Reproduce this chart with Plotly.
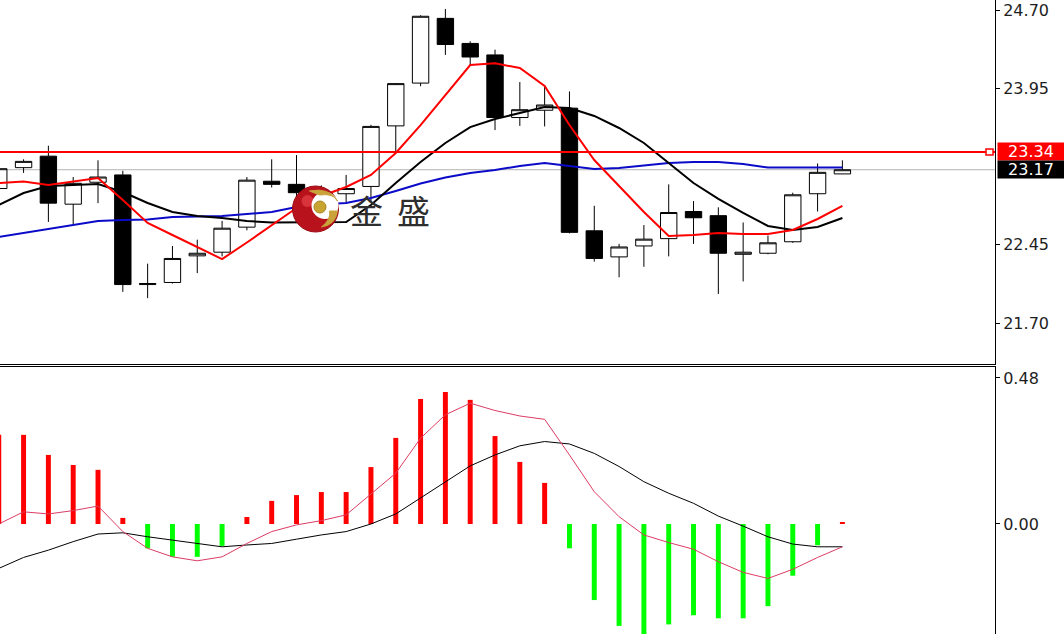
import plotly.graph_objects as go

# ---------------- data ----------------
bars = list(range(35))
opens = [22.99, 23.19, 23.30, 22.84, 23.05, 23.12, 22.07, 22.09, 22.345, 22.38,
         22.62, 23.06, 23.03, 22.96, 22.94, 23.01, 23.59, 24.00, 24.62, 24.38,
         24.27, 23.67, 23.74, 23.76, 22.585, 22.335, 22.44, 22.51, 22.77, 22.73,
         22.36, 22.37, 22.48, 22.94, 23.13]
highs = [23.22, 23.27, 23.40, 23.10, 23.26, 23.16, 22.27, 22.44, 22.50, 22.68,
         23.10, 23.27, 23.31, 23.02, 23.12, 23.60, 24.00, 24.65, 24.71, 24.40,
         24.32, 24.01, 23.98, 23.92, 22.825, 22.46, 22.64, 23.03, 22.87, 22.81,
         22.665, 22.54, 22.95, 23.23, 23.26]
lows = [22.95, 23.14, 22.67, 22.65, 22.85, 22.00, 21.94, 22.08, 22.18, 22.34,
        22.59, 23.00, 22.88, 22.83, 22.85, 22.87, 23.34, 23.97, 24.27, 24.17,
        23.55, 23.59, 23.585, 22.56, 22.29, 22.14, 22.24, 22.34, 22.46, 21.98,
        22.10, 22.36, 22.47, 22.77, 23.13]
closes = [23.18, 23.25, 22.85, 23.04, 23.10, 22.07, 22.08, 22.32, 22.37, 22.61,
          23.07, 23.03, 22.95, 22.92, 22.99, 23.585, 23.995, 24.64, 24.37, 24.25,
          23.67, 23.745, 23.79, 22.57, 22.32, 22.43, 22.505, 22.76, 22.71, 22.37,
          22.38, 22.47, 22.93, 23.145, 23.17]

ma_red = [23.043, 23.057, 23.024, 23.055, 23.091, 22.880, 22.660, 22.545, 22.429, 22.314,
          22.473, 22.636, 22.803, 22.918, 23.005, 23.120, 23.330, 23.598, 23.886, 24.173,
          24.189, 24.144, 23.972, 23.598, 23.263, 23.014, 22.765, 22.535, 22.545, 22.564,
          22.554, 22.554, 22.593, 22.698, 22.823]
ma_black = [22.832, 22.947, 23.014, 23.024, 23.033, 22.957, 22.851, 22.765, 22.727, 22.708,
            22.679, 22.665, 22.665, 22.665, 22.669, 22.832, 23.043, 23.244, 23.426, 23.579,
            23.656, 23.713, 23.771, 23.761, 23.685, 23.570, 23.426, 23.234, 23.043, 22.890,
            22.756, 22.631, 22.593, 22.621, 22.708]
ma_blue = [22.526, 22.564, 22.602, 22.641, 22.679, 22.689, 22.693, 22.717, 22.722, 22.727,
           22.746, 22.765, 22.813, 22.837, 22.851, 22.899, 22.966, 23.038, 23.096, 23.139,
           23.167, 23.206, 23.234, 23.206, 23.177, 23.187, 23.211, 23.234, 23.244, 23.244,
           23.225, 23.191, 23.191, 23.191, 23.191]

macd_hist = [0.293, 0.293, 0.227, 0.194, 0.178, 0.020, -0.080, -0.108, -0.108, -0.072,
             0.023, 0.076, 0.095, 0.105, 0.105, 0.187, 0.283, 0.411, 0.434, 0.408,
             0.289, 0.204, 0.135, -0.080, -0.250, -0.335, -0.370, -0.330, -0.300, -0.310,
             -0.310, -0.270, -0.170, -0.070, 0.005]
macd_dif = [0.000, 0.040, 0.033, 0.044, 0.059, -0.025, -0.080, -0.108, -0.121, -0.108,
            -0.064, -0.025, -0.003, 0.011, 0.030, 0.100, 0.167, 0.282, 0.359, 0.397,
            0.373, 0.355, 0.344, 0.227, 0.106, 0.024, -0.036, -0.061, -0.083, -0.124,
            -0.159, -0.179, -0.149, -0.110, -0.075]
macd_dea = [-0.146, -0.110, -0.086, -0.058, -0.033, -0.029, -0.042, -0.053, -0.066, -0.075,
            -0.069, -0.064, -0.050, -0.036, -0.025, 0.000, 0.033, 0.085, 0.139, 0.191,
            0.227, 0.257, 0.271, 0.263, 0.232, 0.189, 0.139, 0.101, 0.068, 0.026,
            -0.007, -0.042, -0.066, -0.075, -0.075]

price_ticks = [24.70, 23.95, 22.45, 21.70]
macd_ticks = [0.48, 0.00]
ref_level = 23.34
last_close = closes[-1]
watermark = ["金", "盛"]

# ---------------- figure ----------------
W, H = 1064, 634
AX_FONT = dict(family="DejaVu Sans", size=16, color="#1e1e1e")

fig = go.Figure()

fig.add_trace(go.Candlestick(
    x=bars, open=opens, high=highs, low=lows, close=closes,
    increasing=dict(line=dict(color="black", width=1), fillcolor="white"),
    decreasing=dict(line=dict(color="black", width=1), fillcolor="black"),
    whiskerwidth=0, xaxis="x", yaxis="y", showlegend=False, hoverinfo="skip"))

fig.add_trace(go.Scatter(x=bars, y=ma_blue, mode="lines",
                         line=dict(color="#0a0ac8", width=2), xaxis="x", yaxis="y", showlegend=False))
fig.add_trace(go.Scatter(x=bars, y=ma_black, mode="lines",
                         line=dict(color="black", width=2), xaxis="x", yaxis="y", showlegend=False))
fig.add_trace(go.Scatter(x=bars, y=ma_red, mode="lines",
                         line=dict(color="#ff0000", width=2), xaxis="x", yaxis="y", showlegend=False))

hist_colors = ["#ff0000" if v >= 0 else "#00ff00" for v in macd_hist]
fig.add_trace(go.Bar(x=bars, y=macd_hist, width=0.2, marker=dict(color=hist_colors, line=dict(width=0)),
                     xaxis="x2", yaxis="y2", showlegend=False))
fig.add_trace(go.Scatter(x=bars, y=macd_dea, mode="lines",
                         line=dict(color="black", width=1), xaxis="x2", yaxis="y2", showlegend=False))
fig.add_trace(go.Scatter(x=bars, y=macd_dif, mode="lines",
                         line=dict(color="#dc3c64", width=1), xaxis="x2", yaxis="y2", showlegend=False))

x_dom = [0, 995 / W]
main_dom = [1 - 364 / H, 1]
macd_dom = [0, 1 - 367 / H]
xr = [0.05, 40.15]

fig.update_layout(
    width=W, height=H,
    margin=dict(l=0, r=0, t=0, b=0),
    paper_bgcolor="white", plot_bgcolor="white",
    boxgap=0.34, boxgroupgap=0,
    showlegend=False,
    xaxis=dict(domain=x_dom, anchor="y", range=xr, showgrid=False, zeroline=False,
               showticklabels=False, ticks="", showline=True, linecolor="black", linewidth=1,
               rangeslider=dict(visible=False)),
    yaxis=dict(domain=main_dom, anchor="x", side="right", range=[21.309, 24.796],
               showgrid=False, zeroline=False, tickvals=price_ticks,
               ticktext=[f"{v:.2f}" for v in price_ticks], ticks="outside", ticklen=4,
               tickcolor="black", showline=True, linecolor="black", linewidth=1,
               tickfont=AX_FONT),
    xaxis2=dict(domain=x_dom, anchor="y2", range=xr, showgrid=False, zeroline=False,
                showticklabels=False, ticks="", side="top", showline=True, linecolor="black",
                linewidth=1),
    yaxis2=dict(domain=macd_dom, anchor="x2", side="right", range=[-0.3616, 0.516],
                showgrid=False, zeroline=False, tickvals=macd_ticks,
                ticktext=[f"{v:.2f}" for v in macd_ticks], ticks="outside", ticklen=4,
                tickcolor="black", showline=True, linecolor="black", linewidth=1,
                tickfont=AX_FONT),
)

shapes = []
# last close line (gray) and reference level (red)
shapes.append(dict(type="line", xref="x domain", yref="y", x0=0, x1=1, y0=last_close, y1=last_close,
                   line=dict(color="#b4b4b4", width=1), layer="below"))
shapes.append(dict(type="line", xref="x domain", yref="y", x0=0, x1=1, y0=ref_level, y1=ref_level,
                   line=dict(color="#ff0000", width=2)))
shapes.append(dict(type="rect", xref="paper", yref="y", xsizemode="pixel", ysizemode="pixel",
                   xanchor=989.5 / W, yanchor=ref_level, x0=-3.5, x1=3.5, y0=-3, y1=3,
                   fillcolor="white", line=dict(color="#ff0000", width=1.5)))

# logo (red sphere with golden swoosh)
lx, ly = 315.5 / W, 1 - 209 / H
def logo(**kw):
    d = dict(xref="paper", yref="paper", xsizemode="pixel", ysizemode="pixel",
             xanchor=lx, yanchor=ly, layer="above")
    d.update(kw)
    return d
shapes.append(logo(type="circle", x0=-23, x1=23, y0=-23, y1=23,
                   fillcolor="#b8121c", line=dict(color="#9a0c14", width=1)))
shapes.append(logo(type="circle", x0=-14, x1=-2, y0=2, y1=14,
                   fillcolor="#d8323a", line=dict(width=0)))
shapes.append(logo(type="circle", x0=-4, x1=23, y0=-10, y1=17,
                   fillcolor="white", line=dict(width=0)))
shapes.append(logo(type="path", path="M -6,18 Q 14,22 22,8 Q 18,16 4,14 Z",
                   fillcolor="#c9a23a", line=dict(color="#c9a23a", width=1)))
shapes.append(logo(type="path", path="M 22,-2 Q 20,-16 6,-18 Q 16,-10 14,-2 Z",
                   fillcolor="#c9a23a", line=dict(color="#c9a23a", width=1)))
shapes.append(logo(type="circle", x0=-1.5, x1=10.5, y0=-4, y1=8,
                   fillcolor="#c8a431", line=dict(color="#a88420", width=1)))
fig.update_layout(shapes=shapes)

annotations = [
    dict(xref="paper", yref="y", x=997 / W, y=ref_level, xanchor="left", yanchor="middle",
         text=f"{ref_level:.2f}", showarrow=False, bgcolor="#ff0000",
         font=dict(family="DejaVu Sans", size=16, color="white"), width=66, height=17, borderpad=0),
    dict(xref="paper", yref="y", x=997 / W, y=last_close, xanchor="left", yanchor="middle",
         text=f"{last_close:.2f}", showarrow=False, bgcolor="#000000",
         font=dict(family="DejaVu Sans", size=16, color="white"), width=66, height=17, borderpad=0),
]
for ch, cx in zip(watermark, [366, 413]):
    annotations.append(dict(xref="paper", yref="paper", x=cx / W, y=1 - 210 / H,
                            xanchor="center", yanchor="middle", text=ch, showarrow=False,
                            font=dict(family="Noto Sans CJK SC", size=33, color="#2e2e2e")))
fig.update_layout(annotations=annotations)

fig.write_html("out.html", config={"displayModeBar": False},
               post_script="document.body.style.margin='0';document.body.style.padding='0';"
                           "document.body.style.overflow='hidden';")
